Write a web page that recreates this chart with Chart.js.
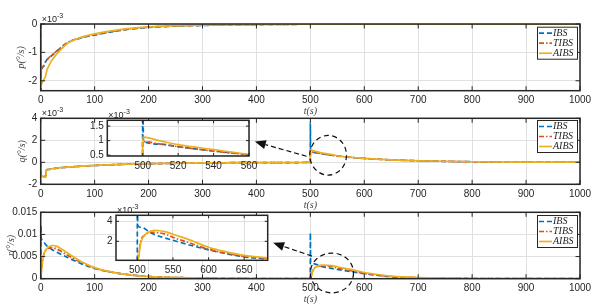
<!DOCTYPE html>
<html><head><meta charset="utf-8">
<script src="https://cdn.jsdelivr.net/npm/chart.js@4.4.1/dist/chart.umd.min.js"></script>
<style>
html,body{margin:0;padding:0;background:#fff;}
#wrap{position:relative;width:611px;height:308px;overflow:hidden;background:#fff;}
canvas{position:absolute;left:0;top:0;}
</style></head><body>
<div id="wrap">
<canvas id="cP" width="611" height="308"></canvas>
<canvas id="cQ" width="611" height="308"></canvas>
<canvas id="cR" width="611" height="308"></canvas>
<canvas id="cQi" width="611" height="308"></canvas>
<canvas id="cRi" width="611" height="308"></canvas>
</div>
<script>
// ---------------- DATA ----------------
const seriesNames = ['IBS', 'TIBS', 'AIBS'];
const xTicks = [0, 100, 200, 300, 400, 500, 600, 700, 800, 900, 1000];
const xTickLabels = ['0', '100', '200', '300', '400', '500', '600', '700', '800', '900', '1000'];

// p (x10^-3)
const pTicks = [-2, -1, 0];
const pTickLabels = ['-2', '-1', '0'];
const pT_IBS = [0, 0.3, 1, 5, 10, 15, 20, 30, 40, 50, 75, 100, 150, 200, 250, 300, 400, 500, 700, 1000];
const p_IBS = [0, -2.35, -1.7, -1.5, -1.3, -1.2, -1.12, -0.96, -0.8, -0.66, -0.49, -0.39, -0.22, -0.12, -0.075, -0.05, -0.02, -0.008, 0, 0];
const pT_TIBS = [0, 0.3, 1, 5, 10, 15, 20, 30, 40, 50, 75, 100, 150, 200, 250, 300, 400, 500, 700, 1000];
const p_TIBS = [0, -1.9, -1.66, -1.48, -1.29, -1.19, -1.11, -0.95, -0.79, -0.65, -0.48, -0.38, -0.21, -0.115, -0.07, -0.045, -0.018, -0.007, 0, 0];
const pT_AIBS = [0, 0.3, 3, 6, 9, 10, 12, 15, 20, 30, 40, 50, 75, 100, 150, 200, 250, 300, 400, 500, 700, 1000];
const p_AIBS = [0, -2.15, -2.05, -1.95, -1.84, -1.75, -1.6, -1.48, -1.3, -1.05, -0.85, -0.68, -0.47, -0.35, -0.19, -0.1, -0.06, -0.04, -0.015, -0.005, 0, 0];

// q (x10^-3)
const qTicks = [-2, 0, 2, 4];
const qTickLabels = ['-2', '0', '2', '4'];
const qT_IBS = [0, 0.5, 5, 9.5, 10.5, 15, 20, 30, 50, 75, 100, 150, 200, 300, 400, 499.9, 500, 500.4, 510, 520, 540, 560, 600, 650, 700, 800, 900, 1000];
const q_IBS = [0, -1.2, -1.28, -1.25, -0.72, -0.65, -0.6, -0.53, -0.44, -0.36, -0.29, -0.19, -0.13, -0.06, -0.03, -0.01, 3.6, 0.98, 0.88, 0.79, 0.645, 0.52, 0.35, 0.22, 0.14, 0.05, 0.02, 0.01];
const qT_TIBS = [0, 0.5, 5, 9.5, 10.5, 15, 20, 30, 50, 75, 100, 150, 200, 300, 400, 499.9, 500, 510, 520, 540, 560, 600, 650, 700, 800, 900, 1000];
const q_TIBS = [0, -1.2, -1.28, -1.25, -0.72, -0.65, -0.6, -0.53, -0.44, -0.36, -0.29, -0.19, -0.13, -0.06, -0.03, -0.01, 0.97, 0.88, 0.79, 0.64, 0.52, 0.35, 0.22, 0.14, 0.05, 0.02, 0.01];
const qT_AIBS = [0, 0.5, 5, 9.5, 10.5, 15, 20, 30, 50, 75, 100, 150, 200, 300, 400, 499.9, 500, 510, 520, 540, 560, 600, 650, 700, 800, 900, 1000];
const q_AIBS = [0, -1.25, -1.33, -1.35, -0.75, -0.66, -0.6, -0.52, -0.43, -0.35, -0.28, -0.18, -0.12, -0.055, -0.025, -0.01, 1.12, 0.99, 0.86, 0.69, 0.53, 0.36, 0.22, 0.14, 0.05, 0.02, 0.01];
const qInsetXTicks = [500, 520, 540, 560];
const qInsetXLabels = ['500', '520', '540', '560'];
const qInsetYTicks = [0.5, 1, 1.5];
const qInsetYLabels = ['0.5', '1', '1.5'];

// r
const rTicks = [0, 0.005, 0.01, 0.015];
const rTickLabels = ['0', '0.005', '0.01', '0.015'];
const rT_IBS = [0, 0.3, 1, 3, 10, 25, 50, 75, 100, 150, 200, 300, 400, 499.9, 500, 500.5, 505, 520, 550, 600, 650, 683, 700, 800, 1000];
const r_IBS = [0, 0.0121, 0.0092, 0.0087, 0.0076, 0.0063, 0.0048, 0.0034, 0.0023, 0.0011, 0.0005, 0.00015, 0.00004, 0, 0.0103, 0.0036, 0.0034, 0.0028, 0.0021, 0.00115, 0.00045, 0.00025, 0.0002, 0.00004, 0];
const rT_TIBS = [0, 3, 6, 10, 15, 20, 30, 40, 50, 75, 100, 150, 200, 300, 400, 499.9, 500, 505, 510, 520, 540, 550, 575, 600, 650, 683, 700, 800, 1000];
const r_TIBS = [0, 0.0038, 0.0056, 0.0065, 0.0069, 0.007, 0.0067, 0.006, 0.0053, 0.0037, 0.0024, 0.0011, 0.0005, 0.00015, 0.00004, 0, 0, 0.0021, 0.0026, 0.0029, 0.0027, 0.0024, 0.0018, 0.0012, 0.0005, 0.0003, 0.00022, 0.00005, 0];
const rT_AIBS = [0, 3, 6, 10, 15, 22, 30, 40, 50, 75, 100, 150, 200, 300, 400, 499.9, 500, 505, 510, 520, 525, 540, 550, 575, 600, 625, 650, 683, 700, 800, 1000];
const r_AIBS = [0, 0.0035, 0.0055, 0.0066, 0.0072, 0.0075, 0.0073, 0.0066, 0.0058, 0.0039, 0.0025, 0.0011, 0.0005, 0.00015, 0.00004, 0, 0, 0.0019, 0.0026, 0.00305, 0.0031, 0.00295, 0.0027, 0.0021, 0.0014, 0.00095, 0.0006, 0.00035, 0.00025, 0.00005, 0];
const rInsetXTicks = [500, 550, 600, 650];
const rInsetXLabels = ['500', '550', '600', '650'];
const rInsetYTicks = [2, 4];
const rInsetYLabels = ['2', '4'];

// ---------------- STYLE / LAYOUT ----------------
const W = 611, H = 308;
const SANS = '"Liberation Sans", Arial, Helvetica, sans-serif';
const SERIF = '"Liberation Serif", "DejaVu Serif", "Times New Roman", serif';
const AX = '#262626';
const GRID = '#e0e0e0';
const LW = 1.7;
const STYLE = {
  IBS:  { color: '#0072BD', dash: [5, 3], order: 3 },
  TIBS: { color: '#D95319', dash: [5, 2, 1.5, 2], order: 2 },
  AIBS: { color: '#EDB120', dash: [], order: 1 }
};

function lineDs(name, t, v, k) {
  const st = STYLE[name], f = k || 1;
  return {
    label: name,
    data: t.map((x, i) => ({ x: x, y: v[i] * f })),
    borderColor: st.color, borderWidth: LW, borderDash: st.dash,
    pointRadius: 0, fill: false, cubicInterpolationMode: 'monotone', order: st.order
  };
}

const DECO = {};

const decoPlugin = {
  id: 'deco',
  beforeDraw(chart) {
    const d = DECO[chart.canvas.id];
    if (!d || !d.bg) return;
    const a = chart.chartArea, c = chart.ctx;
    c.save(); c.fillStyle = '#fff';
    c.fillRect(a.left, a.top, a.right - a.left, a.bottom - a.top);
    c.restore();
  },
  afterDraw(chart) {
    const d = DECO[chart.canvas.id];
    if (!d) return;
    const a = chart.chartArea, c = chart.ctx, xs = chart.scales.x, ys = chart.scales.y;
    c.save();
    // inward ticks
    c.strokeStyle = AX; c.lineWidth = 1; c.setLineDash([]);
    c.beginPath();
    d.xTicks.forEach(v => {
      const p = xs.getPixelForValue(v);
      c.moveTo(p, a.bottom); c.lineTo(p, a.bottom - d.tl);
      c.moveTo(p, a.top); c.lineTo(p, a.top + d.tl);
    });
    d.yTicks.forEach(v => {
      const p = ys.getPixelForValue(v);
      c.moveTo(a.left, p); c.lineTo(a.left + d.tl, p);
      c.moveTo(a.right, p); c.lineTo(a.right - d.tl, p);
    });
    c.stroke();
    // box
    c.lineWidth = 1.5;
    c.strokeRect(a.left, a.top, a.right - a.left, a.bottom - a.top);
    // exponent
    if (d.exp) {
      c.fillStyle = AX; c.textAlign = 'left'; c.textBaseline = 'alphabetic';
      c.font = '9px ' + SANS;
      const x0 = a.left + 1, y0 = a.top - 2.5;
      c.fillText('\u00d710', x0, y0);
      const w = c.measureText('\u00d710').width;
      c.font = '7px ' + SANS;
      c.fillText('-3', x0 + w, y0 - 4);
    }
    // y title
    if (d.yTitle) {
      c.save();
      c.translate(d.yTitleX, (a.top + a.bottom) / 2);
      c.rotate(-Math.PI / 2);
      c.textAlign = 'center'; c.textBaseline = 'middle';
      c.font = 'italic 10px ' + SERIF; c.fillStyle = '#404040';
      c.fillText(d.yTitle, 0, 0);
      c.restore();
    }
    // x title
    if (d.xTitle) {
      c.textAlign = 'center'; c.textBaseline = 'middle';
      c.font = 'italic 10px ' + SERIF; c.fillStyle = '#404040';
      c.fillText(d.xTitle, (a.left + a.right) / 2, a.bottom + 21);
    }
    // ellipse
    if (d.ellipse) {
      const e = d.ellipse;
      const cx = xs.getPixelForValue(e.cx), cy = ys.getPixelForValue(e.cy);
      const rx = Math.abs(xs.getPixelForValue(e.cx + e.rx) - cx);
      const ry = Math.abs(ys.getPixelForValue(e.cy + e.ry) - cy);
      c.setLineDash([5, 3.5]); c.strokeStyle = '#111'; c.lineWidth = 1.2;
      c.beginPath(); c.ellipse(cx, cy, rx, ry, 0, 0, 2 * Math.PI); c.stroke();
    }
    // arrow
    if (d.arrow) {
      const ar = d.arrow;
      const x1 = xs.getPixelForValue(ar.x1), y1 = ys.getPixelForValue(ar.y1);
      const x2 = xs.getPixelForValue(ar.x2), y2 = ys.getPixelForValue(ar.y2);
      const ang = Math.atan2(y2 - y1, x2 - x1), hl = 11, hw = 4.5;
      const bx = x2 - hl * Math.cos(ang), by = y2 - hl * Math.sin(ang);
      c.setLineDash([5, 3]); c.strokeStyle = '#111'; c.lineWidth = 1.2;
      c.beginPath(); c.moveTo(x1, y1); c.lineTo(bx, by); c.stroke();
      c.setLineDash([]); c.fillStyle = '#111';
      c.beginPath();
      c.moveTo(x2, y2);
      c.lineTo(bx + hw * Math.sin(ang), by - hw * Math.cos(ang));
      c.lineTo(bx - hw * Math.sin(ang), by + hw * Math.cos(ang));
      c.closePath(); c.fill();
    }
    // legend
    if (d.legend) {
      const bw = 40, bh = 32, bx = a.right - 3 - bw, by = a.top + d.legendDy;
      c.setLineDash([]);
      c.fillStyle = '#fff'; c.fillRect(bx, by, bw, bh);
      c.lineWidth = 1; c.strokeStyle = AX; c.strokeRect(bx + 0.5, by + 0.5, bw, bh);
      seriesNames.forEach((n, i) => {
        const yy = by + 6.5 + i * 10;
        c.setLineDash(STYLE[n].dash); c.strokeStyle = STYLE[n].color; c.lineWidth = LW;
        c.beginPath(); c.moveTo(bx + 2, yy); c.lineTo(bx + 15, yy); c.stroke();
        c.setLineDash([]); c.fillStyle = AX;
        c.font = 'italic 10px ' + SERIF; c.textAlign = 'left'; c.textBaseline = 'middle';
        c.fillText(n, bx + 16, yy);
      });
    }
    c.restore();
  }
};

function makeChart(id, g, datasets) {
  return new Chart(document.getElementById(id), {
    type: 'line',
    data: { datasets: datasets },
    options: {
      responsive: false, animation: false, devicePixelRatio: 1,
      events: [],
      layout: { padding: { left: g.L - g.yW, right: W - g.R, top: g.T, bottom: H - g.B - g.xH } },
      plugins: { legend: { display: false }, tooltip: { enabled: false } },
      scales: {
        x: {
          type: 'linear', min: g.xMin, max: g.xMax,
          afterFit: s => { s.height = g.xH; },
          afterBuildTicks: s => { s.ticks = g.xTicks.map(v => ({ value: v })); },
          ticks: { autoSkip: false, maxRotation: 0, minRotation: 0, padding: 4, color: AX,
                   font: { family: SANS, size: 10 }, callback: (v, i) => g.xLabels[i] },
          grid: { color: GRID, drawTicks: false, lineWidth: 1 },
          border: { display: false }
        },
        y: {
          type: 'linear', min: g.yMin, max: g.yMax,
          afterFit: s => { s.width = g.yW; },
          afterBuildTicks: s => { s.ticks = g.yTicks.map(v => ({ value: v })); },
          ticks: { autoSkip: false, padding: 3.5, color: AX,
                   font: { family: SANS, size: 10 }, callback: (v, i) => g.yLabels[i] },
          grid: { color: GRID, drawTicks: false, lineWidth: 1 },
          border: { display: false }
        }
      }
    },
    plugins: [decoPlugin]
  });
}

// ---------------- PANELS ----------------
DECO.cP = { xTicks: xTicks, yTicks: pTicks, tl: 4.5, exp: true, yTitle: 'p(\u00b0/s)', yTitleX: 21, xTitle: 't(s)', legend: true, legendDy: 2.7 };
makeChart('cP', { L: 40.7, R: 580, T: 24, B: 90.7, yW: 40, xH: 24, xMin: 0, xMax: 1000, yMin: -2.35, yMax: 0,
  xTicks: xTicks, xLabels: xTickLabels, yTicks: pTicks, yLabels: pTickLabels },
  [lineDs('IBS', pT_IBS, p_IBS), lineDs('TIBS', pT_TIBS, p_TIBS), lineDs('AIBS', pT_AIBS, p_AIBS)]);

DECO.cQ = { xTicks: xTicks, yTicks: qTicks, tl: 4.5, exp: true, yTitle: 'q(\u00b0/s)', yTitleX: 22, xTitle: 't(s)', legend: true, legendDy: 1.7,
  ellipse: { cx: 533, cy: 0.64, rx: 34, ry: 1.8 }, arrow: { x1: 493, y1: 0.55, x2: 397, y2: 1.88 } };
makeChart('cQ', { L: 40.7, R: 580, T: 118.3, B: 184.3, yW: 40, xH: 24, xMin: 0, xMax: 1000, yMin: -2, yMax: 4,
  xTicks: xTicks, xLabels: xTickLabels, yTicks: qTicks, yLabels: qTickLabels },
  [lineDs('IBS', qT_IBS, q_IBS), lineDs('TIBS', qT_TIBS, q_TIBS), lineDs('AIBS', qT_AIBS, q_AIBS)]);

DECO.cR = { xTicks: xTicks, yTicks: rTicks, tl: 4.5, exp: false, yTitle: 'r(\u00b0/s)', yTitleX: 11, xTitle: 't(s)', legend: true, legendDy: 2.7,
  ellipse: { cx: 540, cy: 0.0013, rx: 40, ry: 0.0045 }, arrow: { x1: 503, y1: 0.0051, x2: 431, y2: 0.0081 } };
makeChart('cR', { L: 40.7, R: 580, T: 212.3, B: 278.7, yW: 40, xH: 24, xMin: 0, xMax: 1000, yMin: 0, yMax: 0.015,
  xTicks: xTicks, xLabels: xTickLabels, yTicks: rTicks, yLabels: rTickLabels },
  [lineDs('IBS', rT_IBS, r_IBS), lineDs('TIBS', rT_TIBS, r_TIBS), lineDs('AIBS', rT_AIBS, r_AIBS)]);

DECO.cQi = { bg: true, xTicks: qInsetXTicks, yTicks: qInsetYTicks, tl: 3, exp: true };
makeChart('cQi', { L: 107.3, R: 249, T: 120.3, B: 156, yW: 20, xH: 16, xMin: 480, xMax: 560, yMin: 0.47, yMax: 1.7,
  xTicks: qInsetXTicks, xLabels: qInsetXLabels, yTicks: qInsetYTicks, yLabels: qInsetYLabels },
  [lineDs('IBS', qT_IBS, q_IBS), lineDs('TIBS', qT_TIBS, q_TIBS), lineDs('AIBS', qT_AIBS, q_AIBS)]);

DECO.cRi = { bg: true, xTicks: rInsetXTicks, yTicks: rInsetYTicks, tl: 3, exp: true };
makeChart('cRi', { L: 116, R: 267.7, T: 215.3, B: 260.3, yW: 20, xH: 16, xMin: 470, xMax: 683, yMin: 0.1, yMax: 4.6,
  xTicks: rInsetXTicks, xLabels: rInsetXLabels, yTicks: rInsetYTicks, yLabels: rInsetYLabels },
  [lineDs('IBS', rT_IBS, r_IBS, 1000), lineDs('TIBS', rT_TIBS, r_TIBS, 1000), lineDs('AIBS', rT_AIBS, r_AIBS, 1000)]);
</script>
</body></html>
